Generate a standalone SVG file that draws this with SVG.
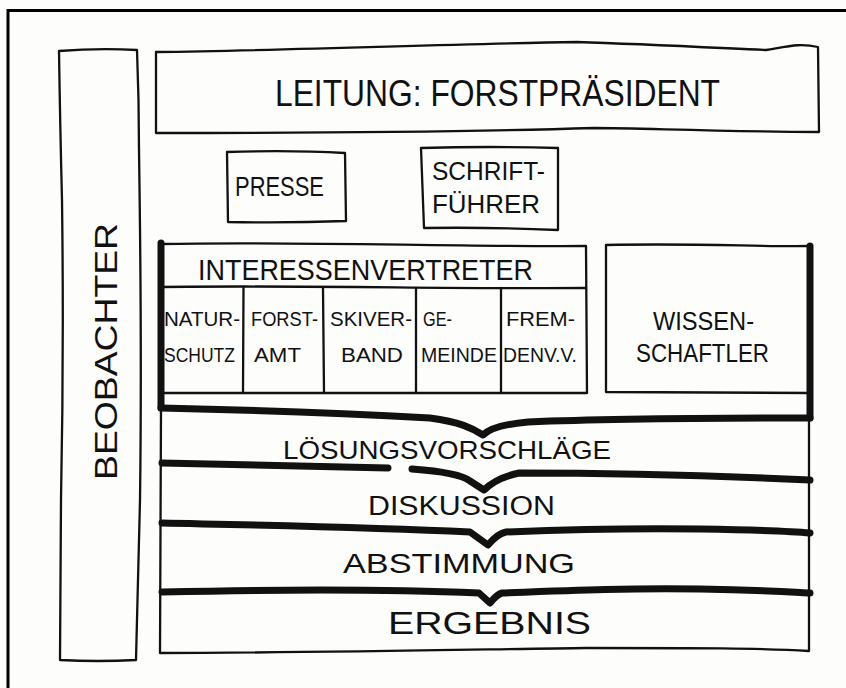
<svg xmlns="http://www.w3.org/2000/svg" width="846" height="688" viewBox="0 0 846 688">
<style>
.bg{fill:#fdfdfc}
.ln{fill:none;stroke:#111;stroke-width:2.3;stroke-linecap:round;stroke-linejoin:round}
.tk{fill:none;stroke:#111;stroke-width:7;stroke-linecap:round;stroke-linejoin:round}
.fr{fill:none;stroke:#000;stroke-width:3}
.t{font-family:"Liberation Sans",Arial,sans-serif;fill:#111}
.c{font-size:20px}
</style>
<rect class="bg" x="0" y="0" width="846" height="688"/>
<g id="frame"><path class="fr" d="M8,688 L8,10.5 L846,10.5"/></g>

<g id="beobachter">
<path class="ln" d="M59,51 Q98,48 137,50 Q139,100 139,150 Q142,350 140,500 L136,660 Q98,662 60,660 L61,500 Q64,350 62,200 Q60,120 59,51 Z"/>
<text class="t" font-size="32" transform="translate(117,480) rotate(-90)" textLength="257" lengthAdjust="spacingAndGlyphs">BEOBACHTER</text>
</g>

<g id="leitung">
<path class="ln" d="M156,52 C300,50 450,44 577,42 C640,44 700,47 766,50 C790,46 800,43 818,47 L819,132 C700,131 640,128 594,128 C500,131 400,133 156,133 Z"/>
<text class="t" font-size="36" x="275" y="106" textLength="445" lengthAdjust="spacingAndGlyphs">LEITUNG: FORSTPRÄSIDENT</text>
</g>

<g id="presse">
<path class="ln" d="M227,152 Q290,150 345,153 L346,221 Q290,223 228,222 Z"/>
<text class="t" font-size="27" x="235" y="196" textLength="89" lengthAdjust="spacingAndGlyphs">PRESSE</text>
</g>

<g id="schriftfuehrer">
<path class="ln" d="M421,148 Q490,146 558,148 L558,230 Q490,227 424,228 Z"/>
<text class="t" font-size="26" x="432" y="180" textLength="113" lengthAdjust="spacingAndGlyphs">SCHRIFT-</text>
<text class="t" font-size="26" x="432" y="213" textLength="108" lengthAdjust="spacingAndGlyphs">FÜHRER</text>
</g>

<g id="interessenvertreter">
<path class="ln" d="M161,244 C300,241 450,247 586,246 L587,393 L161,393"/>
<path class="ln" d="M161,287 C300,285 450,289 586,288"/>
<path class="tk" d="M161,243 L161,408"/>
<text class="t" font-size="29" x="198" y="280" textLength="335" lengthAdjust="spacingAndGlyphs">INTERESSENVERTRETER</text>
</g>

<g id="naturschutz">
<text class="t c" x="164" y="326" textLength="76" lengthAdjust="spacingAndGlyphs">NATUR-</text>
<text class="t c" x="164" y="362" textLength="71" lengthAdjust="spacingAndGlyphs">SCHUTZ</text>
</g>
<g id="forstamt">
<path class="ln" d="M243.5,288 L243,393"/>
<text class="t c" x="251" y="326" textLength="67" lengthAdjust="spacingAndGlyphs">FORST-</text>
<text class="t c" x="254" y="362" textLength="47" lengthAdjust="spacingAndGlyphs">AMT</text>
</g>
<g id="skiverband">
<path class="ln" d="M323,288 L324,393"/>
<text class="t c" x="330" y="326" textLength="82" lengthAdjust="spacingAndGlyphs">SKIVER-</text>
<text class="t c" x="341" y="362" textLength="62" lengthAdjust="spacingAndGlyphs">BAND</text>
</g>
<g id="gemeinde">
<path class="ln" d="M416,288 L416,393"/>
<text class="t c" x="423" y="326" textLength="29" lengthAdjust="spacingAndGlyphs">GE-</text>
<text class="t c" x="421" y="362" textLength="76" lengthAdjust="spacingAndGlyphs">MEINDE</text>
</g>
<g id="fremdenverkehrsverein">
<path class="ln" d="M501,288 L501,393"/>
<text class="t c" x="506" y="326" textLength="69" lengthAdjust="spacingAndGlyphs">FREM-</text>
<text class="t c" x="503" y="362" textLength="74" lengthAdjust="spacingAndGlyphs">DENV.V.</text>
</g>

<g id="wissenschaftler">
<path class="ln" d="M810,246 C760,247 700,243 606,245 L606,392 L810,393"/>
<path class="tk" d="M810,246 L810,418"/>
<text class="t" font-size="25" x="653" y="330" textLength="101" lengthAdjust="spacingAndGlyphs">WISSEN-</text>
<text class="t" font-size="25" x="636" y="362" textLength="133" lengthAdjust="spacingAndGlyphs">SCHAFTLER</text>
</g>

<g id="prozess">
<path class="ln" d="M161,408 L160,653 C300,653 500,649 586,648 C700,648 760,648 809,651 L809,418"/>
</g>

<g id="connectors">
<path class="tk" d="M161,408 C250,410 318,412 430,418 C460,422 472,428 483,435 C490,428 505,424 528,422 C600,419 700,418 810,418"/>
<path class="tk" d="M162,463 C220,464 274,465 388,468"/>
<path class="tk" d="M412,469 C440,471 461,474 470,481 L484,490 C490,484 500,477 519,473 C600,473 700,475 810,480"/>
<path class="tk" d="M162,523 C250,525 363,527 470,532 L488,545 C494,538 500,533 506,532 C580,529 631,528 700,529 C760,530 790,531 810,533"/>
<path class="tk" d="M162,592 C250,590 363,588 479,593 L490,603 C494,598 498,594 502,593 C580,590 631,588 700,589 C760,590 790,592 810,593"/>
</g>

<g id="loesungsvorschlaege"><text class="t" font-size="25" x="283" y="459" textLength="328" lengthAdjust="spacingAndGlyphs">LÖSUNGSVORSCHLÄGE</text></g>
<g id="diskussion"><text class="t" font-size="27" x="368" y="515" textLength="187" lengthAdjust="spacingAndGlyphs">DISKUSSION</text></g>
<g id="abstimmung"><text class="t" font-size="28" x="343" y="573" textLength="232" lengthAdjust="spacingAndGlyphs">ABSTIMMUNG</text></g>
<g id="ergebnis"><text class="t" font-size="32" x="388" y="634" textLength="203" lengthAdjust="spacingAndGlyphs">ERGEBNIS</text></g>
</svg>
